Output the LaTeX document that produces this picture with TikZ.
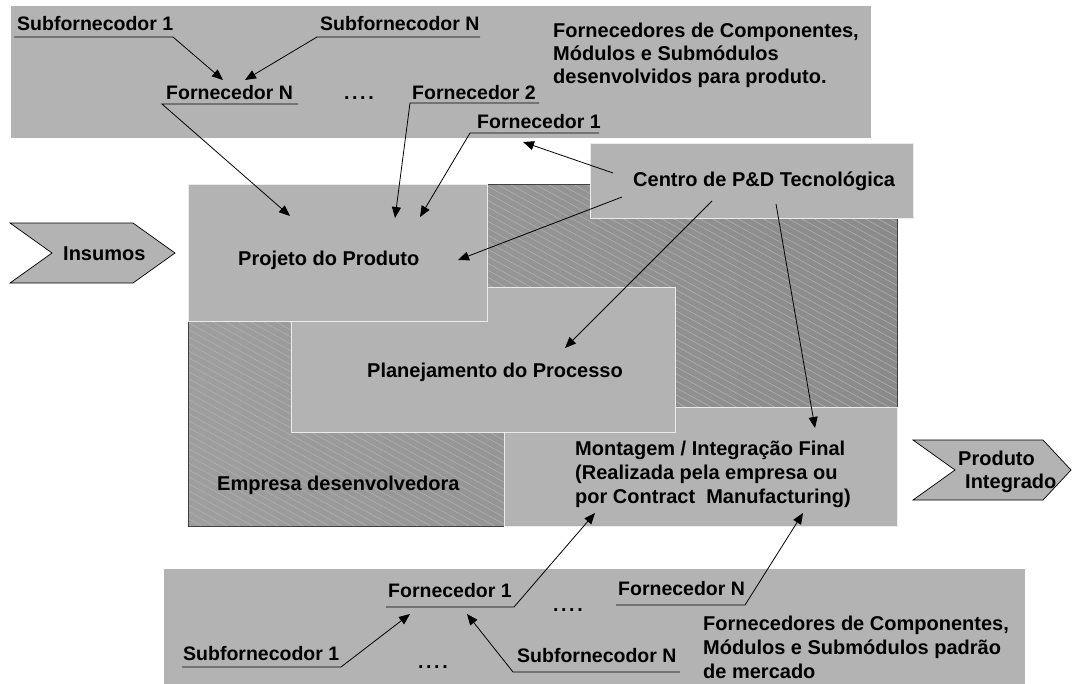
\documentclass[tikz,border=0pt]{standalone}
\usepackage{fontspec}
\setmainfont{Liberation Sans}
\usetikzlibrary{arrows.meta}
\definecolor{boxgray}{RGB}{179,179,179}
\definecolor{hatchL}{RGB}{158,158,158}
\definecolor{hatchR}{RGB}{138,138,138}
\definecolor{edgeline}{RGB}{235,235,235}
\definecolor{stripecol}{RGB}{180,180,180}
\newcommand{\fourdots}{.\kern2.6pt.\kern2.6pt.\kern2.6pt.}
\begin{document}
\begin{tikzpicture}[x=1pt,y=-1pt,
  txt/.style={anchor=base west,inner sep=0pt,font=\fontsize{20}{24}\selectfont\bfseries},
  lbl/.style={anchor=base west,inner sep=0pt,font=\fontsize{19.5}{24}\selectfont\bfseries},
  arr/.style={line width=0.8pt,-{Triangle[length=11pt,width=9pt]}},
  panel/.style={fill=boxgray,draw=none},
  innerbox/.style={fill=boxgray,draw=edgeline,line width=1pt},
  chev/.style={fill=boxgray,draw=black,line width=0.7pt},
  stripe/.style={stripecol,line width=0.5pt}]

\useasboundingbox (0,0) rectangle (1073,683);
\fill[white] (0,0) rectangle (1073,683);

% outer panels
\path[panel] (11,6) rectangle (871,138);
\path[panel] (164,569) rectangle (1025,690);

% hatched company area
\shade[left color=hatchL,right color=hatchR] (188,184) rectangle (897,526);
\begin{scope}
  \clip (188,184) rectangle (897,526);
  \foreach \c in {-320,-313,...,440}
    \draw[stripe] (188,{\c+0.55*188}) -- (897,{\c+0.55*897});
\end{scope}
\draw[black!75,line width=1pt] (188,184) rectangle (897,526);

% inner boxes
\path[innerbox] (504,407) rectangle (897,526);
\path[innerbox] (291,287) rectangle (675,432);
\path[innerbox] (188,184) rectangle (487,321);
\path[innerbox] (590,143) rectangle (913,218);

% chevrons
\path[chev] (10,223) -- (133,223) -- (175,253) -- (133,283) -- (10,283) -- (52,253) -- cycle;
\path[chev] (913,440) -- (1043,440) -- (1071,470) -- (1043,500) -- (913,500) -- (955,470) -- cycle;

% box texts
\node[txt] (insumos) at (63,260) {Insumos};
\node[txt] (projeto) at (238,265) {Projeto do Produto};
\node[txt] (plan) at (367,377) {Planejamento do Processo};
\node[txt] (empresa) at (217,490) {Empresa desenvolvedora};
\node[txt] (centro) at (633,186) {Centro de P\&D Tecnológica};
\node[txt] (mont1) at (575,455) {Montagem / Integração Final};
\node[txt] (mont2) at (575,479) {(Realizada pela empresa ou};
\node[txt] (mont3) at (575,503) {por Contract\ \ Manufacturing)};
\node[txt] (prod1) at (958,465) {Produto};
\node[txt] (prod2) at (965,488) {Integrado};
\node[txt] (topd1) at (553,37) {Fornecedores de Componentes,};
\node[txt] (topd2) at (553,60) {Módulos e Submódulos};
\node[txt] (topd3) at (553,83) {desenvolvidos para produto.};
\node[txt] (botd1) at (703,630) {Fornecedores de Componentes,};
\node[txt] (botd2) at (703,654) {Módulos e Submódulos padrão};
\node[txt] (botd3) at (703,678) {de mercado};

% supplier labels (top)
\node[lbl] (s1) at (17,30) {Subfornecodor 1};
\node[lbl] (sN) at (320,30) {Subfornecodor N};
\node[lbl] (fN) at (166,99) {Fornecedor N};
\node[lbl] (dA) at (344,99) {\fourdots};
\node[lbl] (f2) at (412,99) {Fornecedor 2};
\node[lbl] (f1) at (477,128) {Fornecedor 1};

% supplier labels (bottom)
\node[lbl] (bf1) at (388,597) {Fornecedor 1};
\node[lbl] (dB) at (553,611) {\fourdots};
\node[lbl] (bfN) at (618,595) {Fornecedor N};
\node[lbl] (bs1) at (183,660) {Subfornecodor 1};
\node[lbl] (dC) at (418,668) {\fourdots};
\node[lbl] (bsN) at (517,662) {Subfornecodor N};

% connector coordinates
\coordinate (s1a) at (14,37);   \coordinate (s1b) at (173,37);  \coordinate (s1t) at (223,80);
\coordinate (sNa) at (480,37);  \coordinate (sNb) at (317,37);  \coordinate (sNt) at (245,80);
\coordinate (fNa) at (298,104); \coordinate (fNb) at (162,104); \coordinate (fNt) at (290,216);
\coordinate (f2a) at (539,103); \coordinate (f2b) at (410,103); \coordinate (f2t) at (395,218);
\coordinate (f1a) at (599,133); \coordinate (f1b) at (470,133); \coordinate (f1t) at (420,217);

\coordinate (bf1a) at (386,607); \coordinate (bf1b) at (514,607); \coordinate (bf1t) at (595,513);
\coordinate (bfNa) at (616,605); \coordinate (bfNb) at (745,605); \coordinate (bfNt) at (803,513);
\coordinate (bs1a) at (182,667); \coordinate (bs1b) at (341,667); \coordinate (bs1t) at (410,614);
\coordinate (bsNa) at (680,672); \coordinate (bsNb) at (513,672); \coordinate (bsNt) at (467,614);

\coordinate (c1) at (613,173); \coordinate (c1t) at (523,142);
\coordinate (c2) at (622,197); \coordinate (c2t) at (458,260);
\coordinate (c3) at (712,201); \coordinate (c3t) at (565,348);
\coordinate (c4) at (776,204); \coordinate (c4t) at (815,428);

% callout connectors
\draw[arr] (s1a) -- (s1b) -- (s1t);
\draw[arr] (sNa) -- (sNb) -- (sNt);
\draw[arr] (fNa) -- (fNb) -- (fNt);
\draw[arr] (f2a) -- (f2b) -- (f2t);
\draw[arr] (f1a) -- (f1b) -- (f1t);
\draw[arr] (bf1a) -- (bf1b) -- (bf1t);
\draw[arr] (bfNa) -- (bfNb) -- (bfNt);
\draw[arr] (bs1a) -- (bs1b) -- (bs1t);
\draw[arr] (bsNa) -- (bsNb) -- (bsNt);

% P&D connectors
\draw[arr] (c1) -- (c1t);
\draw[arr] (c2) -- (c2t);
\draw[arr] (c3) -- (c3t);
\draw[arr] (c4) -- (c4t);
\end{tikzpicture}
\end{document}
